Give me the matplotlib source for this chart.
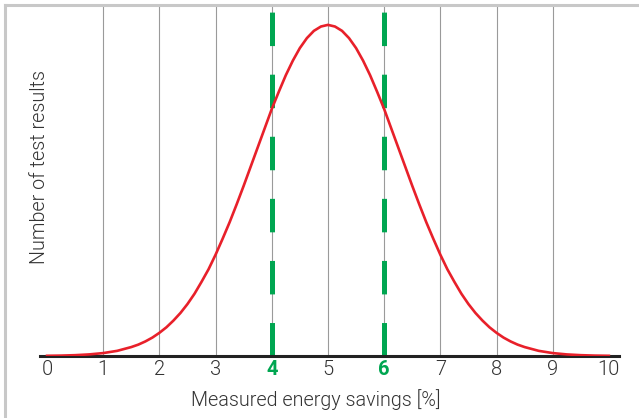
import matplotlib
matplotlib.use("Agg")
import matplotlib.pyplot as plt
from matplotlib.lines import Line2D

# ---- data ----
x_vals = [0.0, 0.25, 0.5, 0.75, 1.0, 1.25, 1.5, 1.625, 1.75, 1.875, 2.0,
          2.125, 2.25, 2.375, 2.5,
          2.625, 2.75, 2.875, 3.0, 3.125, 3.25, 3.375, 3.5, 3.625, 3.75,
          3.875, 4.0, 4.125, 4.25, 4.375, 4.5, 4.625, 4.75, 4.875, 5.0,
          5.125, 5.25, 5.375, 5.5, 5.625, 5.75, 5.875, 6.0, 6.125, 6.25,
          6.375, 6.5, 6.625, 6.75, 6.875, 7.0, 7.125, 7.25, 7.375, 7.5,
          7.625, 7.75, 7.875, 8.0, 8.125, 8.25, 8.375, 8.5,
          8.75, 9.0, 9.25, 9.5, 9.75, 10.0]
y_vals = [0.0006, 0.0012, 0.0025, 0.0048, 0.0088, 0.0156, 0.027, 0.0344,
          0.044, 0.0556, 0.070, 0.0867, 0.107, 0.130, 0.157,
          0.188, 0.224, 0.262, 0.306, 0.354, 0.404, 0.458, 0.514, 0.572, 0.630,
          0.688, 0.746, 0.798, 0.848, 0.892, 0.930, 0.960, 0.982, 0.995, 1.000,
          0.995, 0.982, 0.960, 0.930, 0.892, 0.848, 0.798, 0.746, 0.688, 0.630,
          0.572, 0.514, 0.458, 0.404, 0.354, 0.306, 0.262, 0.224, 0.188, 0.157,
          0.130, 0.107, 0.0867, 0.070, 0.0556, 0.044, 0.0344, 0.027,
          0.0156, 0.0088, 0.0048, 0.0025, 0.0012, 0.0006]
grid_positions = [1, 2, 3, 4, 5, 6, 7, 8, 9]
tick_values = [0, 1, 2, 3, 4, 5, 6, 7, 8, 9, 10]
tick_labels = ["0", "1", "2", "3", "4", "5", "6", "7", "8", "9", "10"]
highlight_ticks = [4, 6]
x_label = "Measured energy savings [%]"
y_label = "Number of test results"

RED = "#e8202a"
GREEN = "#00a651"
GRID = "#9a9a9a"
TEXT = "#333333"

plt.rcParams["font.family"] = ["Roboto", "DejaVu Sans"]
plt.rcParams["lines.scale_dashes"] = False

fig = plt.figure(figsize=(6.39, 4.18), dpi=100)
ax = fig.add_axes([40 / 639, 62 / 418, 579 / 639, 350 / 418])
ax.set_xlim(-0.125, 10.18)
ax.set_ylim(0, 1.057)

for g in grid_positions:
    ax.axvline(g, color=GRID, lw=0.8, zorder=1)

for h in highlight_ticks:
    ax.plot([h, h], [0, 1.039], color=GREEN, lw=3.6, solid_capstyle="butt",
            dash_capstyle="butt", dashes=(24.1, 20.6), zorder=3)

ax.plot(x_vals, y_vals, color=RED, lw=1.9, zorder=4, solid_joinstyle="round")

for s in ["left", "right", "top"]:
    ax.spines[s].set_visible(False)
ax.spines["bottom"].set_color("#222222")
ax.spines["bottom"].set_linewidth(2.2)
ax.spines["bottom"].set_zorder(3.5)

ax.set_yticks([])
ax.set_xticks(tick_values)
ax.set_xticklabels(tick_labels)
ax.tick_params(axis="x", length=0, pad=3, labelsize=14.5, labelcolor=TEXT)
for lbl, v in zip(ax.get_xticklabels(), tick_values):
    lbl.set_fontweight(300)
    if v in highlight_ticks:
        lbl.set_color(GREEN)
        lbl.set_fontweight("bold")

fig.text(316 / 639, 1 - 400 / 418, x_label, ha="center", va="center",
         fontsize=14.2, color=TEXT, fontweight=300)
fig.text(40 / 639, 1 - 167 / 418, y_label, ha="center", va="center",
         rotation=90, fontsize=14.2, color=TEXT, fontweight=300)

# outer frame (left and top edges)
fig.add_artist(Line2D([4.5 / 639, 4.5 / 639], [0, 1 - 5 / 418],
                      transform=fig.transFigure, color="#c8c8c8", lw=2.2))
fig.add_artist(Line2D([4.5 / 639, 1], [1 - 5 / 418, 1 - 5 / 418],
                      transform=fig.transFigure, color="#c8c8c8", lw=2.2))

fig.savefig("out.png", dpi=100)
